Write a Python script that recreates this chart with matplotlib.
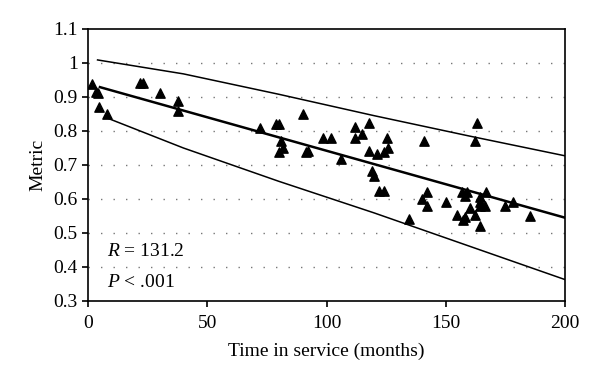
import matplotlib
matplotlib.use("Agg")
import matplotlib.pyplot as plt

plt.rcParams["font.family"] = ["Liberation Serif", "DejaVu Serif"]
plt.rcParams["mathtext.fontset"] = "custom"
plt.rcParams["mathtext.rm"] = "Liberation Serif"
plt.rcParams["mathtext.it"] = "Liberation Serif:italic"

# scatter points
months = [1.8, 3.2, 4.0, 4.6, 8.1, 22, 23, 30.0, 37.9, 37.9,
          72.1, 78.8, 80.2, 90.0, 80.8, 81.9, 80.2, 91.4, 92.4,
          98.4, 101.9, 112.0, 118.0, 115.0, 112.0, 125.2, 118.0, 121.3,
          124.1, 125.9, 140.9, 106.0, 119.0, 119.9, 122.1, 124.1,
          142.0, 139.9, 142.0, 134.7, 150.1, 156.8, 158.8, 158.1,
          154.9, 157.1, 158.1, 160.2, 162.3, 164.4, 164.4, 164.4,
          166.9, 164.4, 166.5, 174.8, 178.1, 185.3, 163.0, 162.3]
metric = [0.938, 0.916, 0.911, 0.870, 0.849, 0.940, 0.940, 0.911, 0.888, 0.860,
          0.809, 0.821, 0.821, 0.849, 0.770, 0.749, 0.738, 0.738, 0.742,
          0.779, 0.779, 0.811, 0.823, 0.791, 0.779, 0.779, 0.740, 0.732,
          0.739, 0.751, 0.771, 0.719, 0.681, 0.668, 0.623, 0.623,
          0.621, 0.600, 0.579, 0.540, 0.590, 0.621, 0.621, 0.609,
          0.553, 0.538, 0.548, 0.573, 0.553, 0.521, 0.607, 0.592,
          0.621, 0.579, 0.579, 0.579, 0.590, 0.551, 0.823, 0.771]

fit_x = [5, 200]
fit_y = [0.929, 0.545]
upper_x = [4, 40, 80, 120, 160, 200]
upper_y = [1.009, 0.968, 0.908, 0.845, 0.785, 0.727]
lower_x = [7, 40, 80, 120, 160, 200]
lower_y = [0.841, 0.750, 0.652, 0.559, 0.461, 0.363]

fig = plt.figure(figsize=(6, 3.83), dpi=100)
ax = fig.add_axes([0.1467, 0.2141, 0.795, 0.7102])

for yv in [0.4, 0.5, 0.6, 0.7, 0.8, 0.9, 1.0]:
    ax.axhline(yv, color="#777777", lw=1, ls=(0, (1, 8)), zorder=0)

ax.plot(upper_x, upper_y, color="black", lw=1.1)
ax.plot(lower_x, lower_y, color="black", lw=1.1)
ax.plot(fit_x, fit_y, color="black", lw=1.8)
ax.scatter(months, metric, marker="^", s=45, color="black", zorder=3)

ax.set_xlim(0, 200)
ax.set_ylim(0.3, 1.1)
ax.set_xticks([0, 50, 100, 150, 200])
ax.set_yticks([0.3, 0.4, 0.5, 0.6, 0.7, 0.8, 0.9, 1.0, 1.1])
ax.set_yticklabels(["0.3", "0.4", "0.5", "0.6", "0.7", "0.8", "0.9", "1", "1.1"])
ax.tick_params(direction="out", length=4, width=1.2, labelsize=14, colors="black")
ax.tick_params(axis="x", pad=6)
for s in ax.spines.values():
    s.set_linewidth(1.2)

ax.set_xlabel("Time in service (months)", fontsize=14, labelpad=8)
ax.set_ylabel("Metric", fontsize=14, labelpad=5)

ax.text(8, 0.445, r"$R$ = 131.2", fontsize=14, va="center")
ax.text(8, 0.355, r"$P$ < .001", fontsize=14, va="center")

fig.savefig("out.png", dpi=100)
